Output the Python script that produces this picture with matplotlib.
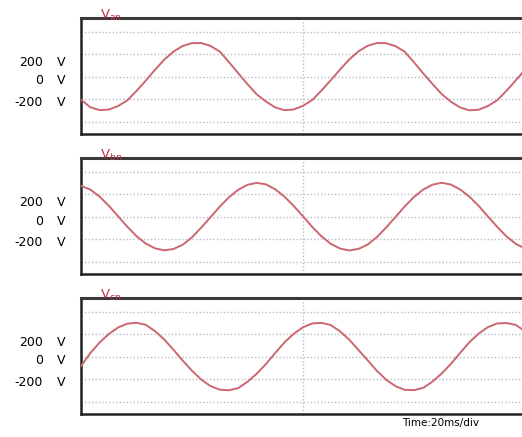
import numpy as np
from matplotlib import pyplot as plt

# three phase-to-neutral voltages, sampled every 1 ms (V)
t_ms = list(range(0, 49))

v_an = [-205, -272, -298, -293, -262, -212, -128, -36, 60, 150, 222, 272, 297, 298, 272, 222, 128, 30, -68, -158,
        -222, -274, -299, -292, -260, -208, -124, -32, 62, 152, 224, 274, 298, 296, 270, 220, 126, 28, -66, -156,
        -224, -275, -300, -294, -261, -210, -126, -34, 60]
v_bn = [272, 240, 178, 96, 4, -90, -174, -240, -282, -300, -288, -250, -184, -98, -6, 88, 172, 238, 282, 299,
        286, 242, 176, 94, 2, -92, -176, -242, -284, -301, -287, -248, -182, -96, -4, 90, 174, 240, 283, 300,
        284, 240, 176, 94, 0, -92, -176, -242, -284]
v_cn = [-85, 30, 124, 200, 258, 292, 300, 282, 226, 152, 60, -36, -126, -204, -262, -294, -299, -280, -224, -152,
        -66, 32, 126, 202, 260, 294, 299, 280, 224, 150, 58, -34, -128, -206, -263, -295, -298, -278, -222, -150,
        -64, 34, 128, 204, 262, 294, 298, 281, 225]

phase_names = [r'$\mathrm{V_{an}}$', r'$\mathrm{V_{bn}}$', r'$\mathrm{V_{cn}}$']
tick_values = ['200', '0', '-200']

W, H = 522, 437
fig = plt.figure(figsize=(W / 100, H / 100), dpi=100)

box_tops = [18, 158, 298]   # px from top
box_h = 116
left, right = 81, 525

wave_color = '#cc6670'
grid_color = '#b8bcc8'

for k, (name, vals) in enumerate(zip(phase_names, [v_an, v_bn, v_cn])):
	top = box_tops[k]
	ax = fig.add_axes([left / W, 1 - (top + box_h) / H, (right - left) / W, box_h / H])
	ax.set_xlim(0, 48)
	ax.set_ylim(-510, 520)
	for g in [-400, -200, 0, 200, 400]:
		ax.axhline(g, color=grid_color, lw=1.0, ls=(0, (1, 1.5)), zorder=1)
	ax.axvline(24, color=grid_color, lw=1.0, ls=(0, (1, 1.5)), zorder=1)
	ax.plot(t_ms, vals, color=wave_color, lw=1.4, zorder=3)
	ax.set_xticks([])
	ax.set_yticks([])
	for s in ax.spines.values():
		s.set_linewidth(1.8)
		s.set_color('#222222')
	ax.spines['top'].set_linewidth(2.2)
	ax.spines['top'].set_color('#3a3a3a')

	# channel name sitting on the top edge
	fig.text(100 / W, 1 - (top + 1) / H, name, color='#c03048', fontsize=9.5,
		ha='left', va='baseline')

	# voltage scale labels
	for lab, dy in zip(tick_values, [44, 63, 84]):
		y = 1 - (top + dy) / H
		fig.text(43 / W, y, lab, fontsize=9, ha='right', va='center')
		fig.text(61 / W, y, 'V', fontsize=9, ha='center', va='center')

fig.text(441 / W, 1 - 423 / H, 'Time:20ms/div', fontsize=7.5, ha='center', va='center')

fig.savefig('out.png', dpi=100)
